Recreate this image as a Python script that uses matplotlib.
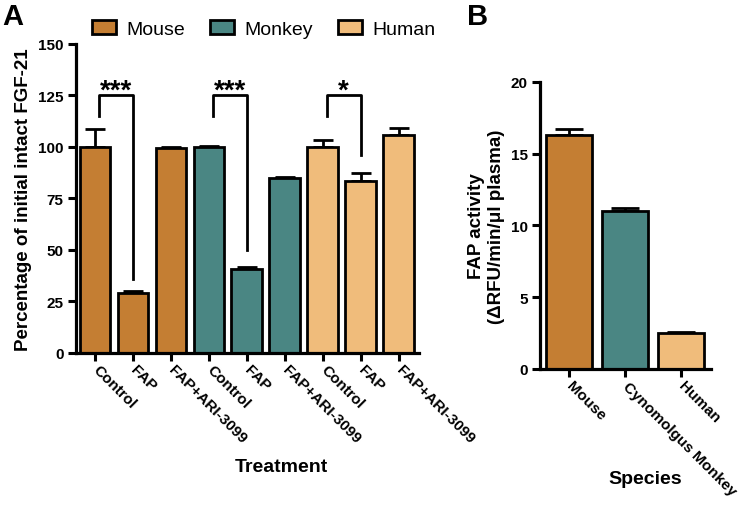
import numpy as np
import matplotlib.pyplot as plt
from matplotlib.patches import Patch

plt.rcParams['font.family'] = ['Liberation Sans', 'DejaVu Sans']
plt.rcParams['font.weight'] = 'bold'

# panel A data
treatments = ["Control", "FAP", "FAP+ARI-3099"] * 3
species_a = ["Mouse", "Monkey", "Human"]
pct_vals = [100, 29, 99.5, 100, 41, 85, 100, 83.5, 106]
pct_err = [8.5, 1.0, 0.6, 0.6, 0.8, 0.3, 3.5, 4.0, 3.0]
# brackets: (left bar, right bar, left leg end, right leg end, label)
brackets = [(0, 1, 115, 36, "***"), (3, 4, 115, 50, "***"), (6, 7, 115, 96, "*")]

# panel B data
species_b = ["Mouse", "Cynomolgus Monkey", "Human"]
fap_vals = [16.3, 11.0, 2.5]
fap_err = [0.45, 0.25, 0.08]

colors = {"Mouse": "#C47E33", "Monkey": "#4A8683", "Human": "#F0BC7B"}
col_a = [colors[s] for s in species_a for _ in range(3)]
col_b = [colors["Mouse"], colors["Monkey"], colors["Human"]]

fig = plt.figure(figsize=(7.48, 5.06), dpi=100)

def style(ax):
    for s in ["top", "right"]:
        ax.spines[s].set_visible(False)
    for s in ["left", "bottom"]:
        ax.spines[s].set_linewidth(2.3)
    ax.tick_params(width=2.2, length=5.5, labelsize=11)
    ax.tick_params(axis='x', pad=5)
    for lab in ax.get_yticklabels():
        lab.set_fontweight('bold')

# ---- A
axA = fig.add_axes([0.1016, 0.3004, 0.4584, 0.6107])
x = np.arange(len(pct_vals))
axA.errorbar(x, pct_vals, yerr=[np.zeros(len(pct_err)), pct_err], fmt='none',
             ecolor='black', elinewidth=2, capsize=7, capthick=2, zorder=1)
axA.bar(x, pct_vals, width=0.81, color=col_a, edgecolor='black', linewidth=2, zorder=2)
axA.set_xlim(-0.5, 8.53)
axA.set_ylim(0, 150)
axA.set_yticks([0, 25, 50, 75, 100, 125, 150])
axA.set_xticks(x)
axA.set_xticklabels(treatments, rotation=-45, ha='left', va='center',
                    rotation_mode='anchor', fontsize=12, fontweight='bold')
axA.set_ylabel("Percentage of initial intact FGF-21", fontsize=13.5, fontweight='bold')
axA.set_xlabel("Treatment", fontsize=14, fontweight='bold')
axA.xaxis.set_label_coords(0.60, -0.366)
axA.xaxis.label.set_va('center')
style(axA)
for l, r, yl, yr, txt in brackets:
    axA.plot([l + 0.1, l + 0.1, r, r], [yl, 125, 125, yr], color='black', lw=2, zorder=3)
    axA.text((l + 0.1 + r) / 2, 121, txt, ha='center', va='bottom', fontsize=20, fontweight='bold')

fig.legend(handles=[Patch(facecolor=colors[s], edgecolor='black', linewidth=2, label=s)
                    for s in species_a],
           loc='upper left', bbox_to_anchor=(82 / 748, 0.978), ncol=3, frameon=False,
           handlelength=1.25, handleheight=0.75, handletextpad=0.55, columnspacing=1.25,
           borderpad=0, prop={'size': 14, 'weight': 'normal'})

# ---- B
axB = fig.add_axes([0.722, 0.2688, 0.2285, 0.5672])
xb = np.arange(len(fap_vals))
axB.errorbar(xb, fap_vals, yerr=[np.zeros(3), fap_err], fmt='none',
             ecolor='black', elinewidth=2, capsize=10, capthick=2, zorder=1)
axB.bar(xb, fap_vals, width=0.82, color=col_b, edgecolor='black', linewidth=2, zorder=2)
axB.set_xlim(-0.52, 2.54)
axB.set_ylim(0, 20)
axB.set_yticks([0, 5, 10, 15, 20])
axB.set_xticks(xb)
axB.set_xticklabels(species_b, rotation=-45, ha='left', va='center',
                    rotation_mode='anchor', fontsize=12, fontweight='bold')
axB.set_ylabel("FAP activity\n(\u0394RFU/min/\u03bcl plasma)", fontsize=13.5, fontweight='bold')
axB.set_xlabel("Species", fontsize=14, fontweight='bold')
axB.xaxis.set_label_coords(0.614, -0.383)
axB.xaxis.label.set_va('center')
style(axB)

fig.text(0.003, 0.995, "A", fontsize=21, fontweight='bold', va='top')
fig.text(0.624, 0.995, "B", fontsize=21, fontweight='bold', va='top')

fig.savefig("out.png", dpi=100)
